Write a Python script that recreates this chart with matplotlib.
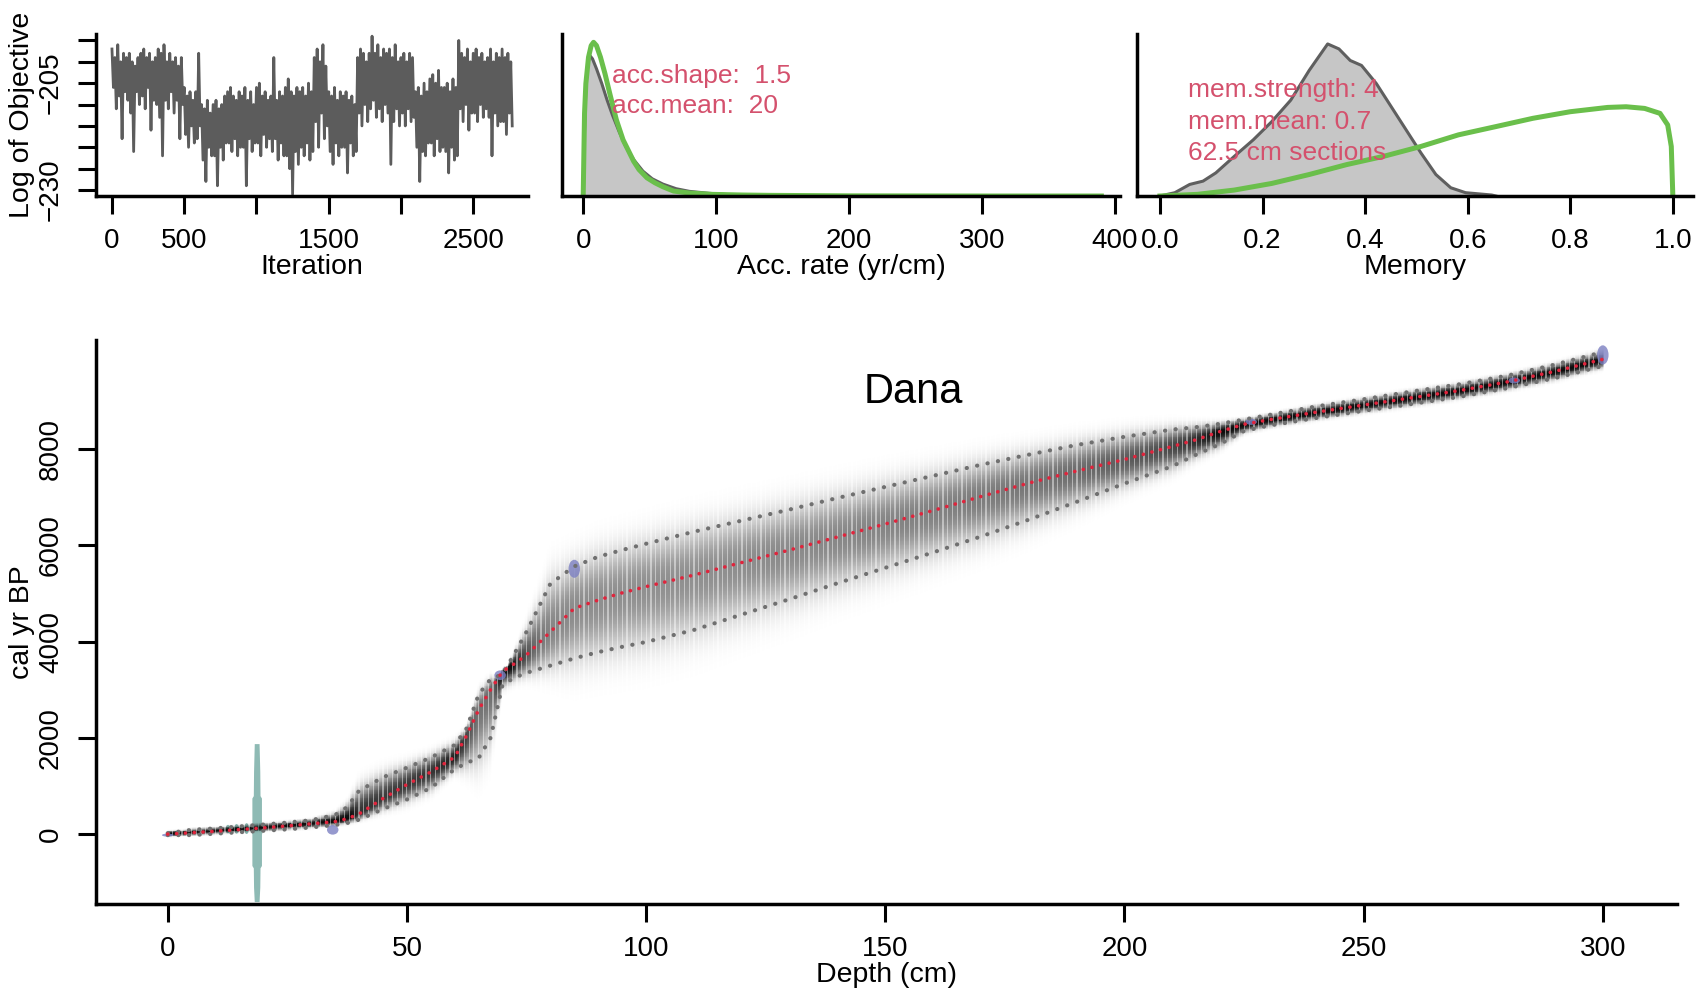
import numpy as np
import matplotlib.pyplot as plt
from matplotlib.patches import Ellipse

plt.rcParams['font.family'] = ['Liberation Sans', 'DejaVu Sans']

# ---- MCMC trace (log of objective) ----
trace = [
    -197, -206, -199, -211, -196, -208, -200, -218, -198, -207,
    -199, -209, -198, -212, -200, -221, -201, -207, -199, -210,
    -198, -208, -197, -211, -199, -206, -198, -216, -200, -209,
    -199, -210, -197, -213, -198, -222, -196, -209, -200, -211,
    -198, -207, -200, -212, -199, -209, -201, -218, -199, -210,
    -206, -217, -208, -220, -207, -215, -209, -219, -207, -218,
    -198, -215, -210, -223, -211, -228, -209, -220, -212, -222,
    -210, -222, -209, -229, -211, -220, -210, -223, -208, -219,
    -207, -219, -206, -221, -208, -218, -209, -222, -207, -220,
    -208, -220, -206, -229, -209, -218, -207, -221, -210, -219,
    -206, -219, -205, -222, -208, -217, -207, -220, -209, -218,
    -208, -221, -199, -218, -209, -223, -207, -219, -208, -222,
    -206, -222, -204, -225, -207, -231, -208, -221, -206, -224,
    -207, -220, -206, -222, -208, -219, -205, -223, -207, -221,
    -199, -214, -197, -220, -200, -212, -196, -218, -201, -215,
    -207, -221, -208, -224, -206, -219, -209, -222, -207, -220,
    -208, -220, -207, -226, -209, -219, -208, -222, -210, -221,
    -199, -212, -197, -215, -198, -210, -200, -214, -198, -211,
    -194, -209, -198, -213, -196, -211, -199, -214, -197, -210,
    -198, -212, -197, -224, -199, -214, -196, -211, -200, -215,
    -199, -212, -198, -215, -200, -211, -198, -214, -199, -213,
    -207, -220, -206, -228, -208, -221, -205, -222, -207, -219,
    -204, -219, -203, -222, -205, -218, -202, -221, -206, -220,
    -206, -221, -205, -226, -207, -220, -204, -223, -206, -222,
    -195, -211, -198, -214, -199, -210, -197, -216, -200, -212,
    -198, -212, -197, -214, -199, -210, -198, -213, -200, -211,
    -199, -213, -197, -222, -200, -212, -198, -215, -199, -214,
    -197, -214, -199, -217, -198, -212, -200, -215,
]
trace_step = 10  # iterations between stored values

# ---- accumulation rate: prior (green) and posterior (grey) ----
acc_prior_x = [0, 1, 2, 4, 6, 7.8, 10, 13, 16.4, 20, 25, 30, 33.7, 38, 42, 48,
               54, 60, 68, 80, 97, 120, 140, 200, 300, 390]
acc_prior_h = [0, 250, 340, 420, 455, 465, 455, 420, 370, 310, 230, 170, 140,
               105, 80, 55, 40, 28, 15, 9, 5, 3, 2, 0.5, 0, 0]
acc_post_x = [0, 1, 2, 3.5, 5, 7, 10, 14, 18, 22, 27, 32, 38, 45, 52, 60, 70,
              80, 95, 110, 123]
acc_post_h = [0, 200, 330, 400, 425, 415, 385, 340, 290, 245, 195, 150, 110,
              75, 52, 36, 22, 14, 8, 4, 0]

# ---- memory: prior (green) and posterior (grey) ----
mem_post_x = [0.0, 0.029, 0.058, 0.084, 0.109, 0.145, 0.182, 0.218, 0.255,
              0.291, 0.327, 0.349, 0.371, 0.393, 0.422, 0.451, 0.48, 0.509,
              0.538, 0.567, 0.596, 0.647, 0.655]
mem_post_h = [0, 10, 35, 45, 70, 120, 170, 225, 290, 380, 460, 445, 410, 395,
              340, 270, 200, 130, 65, 25, 10, 3, 0]
mem_prior_x = [0.0, 0.073, 0.145, 0.218, 0.291, 0.364, 0.436, 0.509, 0.582,
               0.655, 0.727, 0.8, 0.873, 0.909, 0.945, 0.975, 0.99, 0.997, 1.0]
mem_prior_h = [0, 5, 18, 38, 65, 95, 120, 150, 185, 210, 235, 255, 268, 270,
               265, 250, 215, 150, 0]

# ---- age-depth model ----
depth = [0, 5, 10, 15, 20, 25, 30, 35, 37.5, 40, 45, 50, 55, 60, 62.5, 65,
         67.5, 70, 72.5, 75, 80, 85, 90, 95, 100, 110, 120, 130, 140, 150,
         160, 170, 180, 190, 200, 210, 215, 220, 225, 230, 240, 250, 260, 270,
         280, 290, 300]
age_mean = [0, 30, 60, 95, 130, 170, 215, 260, 320, 420, 740, 1030, 1290,
            1600, 2050, 2580, 3000, 3380, 3540, 3720, 4200, 4690, 4860, 5010,
            5140, 5380, 5640, 5900, 6170, 6440, 6720, 7010, 7290, 7540, 7780,
            8050, 8190, 8360, 8510, 8600, 8760, 8910, 9060, 9210, 9390, 9610,
            9860]
age_upper = [20, 90, 120, 160, 200, 240, 290, 400, 560, 900, 1180, 1380,
             1590, 1850, 2200, 2900, 3220, 3320, 3750, 4200, 5200, 5560, 5760,
             5900, 6030, 6280, 6510, 6740, 6980, 7210, 7440, 7670, 7880, 8080,
             8250, 8400, 8450, 8520, 8610, 8700, 8880, 9030, 9190, 9340, 9520,
             9750, 10010]
age_lower = [-20, -20, 10, 40, 70, 100, 140, 190, 230, 300, 520, 720, 960,
             1350, 1480, 1580, 2000, 3100, 3250, 3350, 3500, 3650, 3780, 3890,
             3990, 4240, 4560, 4880, 5210, 5530, 5850, 6180, 6530, 6900, 7280,
             7640, 7880, 8100, 8370, 8480, 8640, 8790, 8930, 9080, 9260, 9470,
             9720]

# calibrated dates (blue blobs)
date_depth = [0, 34.5, 69.5, 85, 226.5, 281.5, 300]
date_age = [-20, 90, 3300, 5510, 8560, 9420, 9950]
date_sd = [25, 80, 80, 150, 50, 50, 160]
# modern/210Pb dates (teal)
pb_depth = [12.6, 14.4, 16.5]
pb_age = [105, 110, 115]
pb_sd = [70, 80, 90]
wide_depth = 18.6
wide_age = [-1400, -1100, -700, -650, 0, 80, 180, 750, 800, 1300, 1880]
wide_halfw = [0.5, 0.65, 0.7, 1.0, 1.0, 1.2, 1.0, 1.0, 0.7, 0.65, 0.5]

txt_col = '#d4516d'
green = '#6abf4b'
AX_LW = 2.5


def style(a):
    a.spines['top'].set_visible(False)
    a.spines['right'].set_visible(False)
    a.spines['left'].set_linewidth(AX_LW)
    a.spines['bottom'].set_linewidth(AX_LW)
    a.tick_params(length=13, width=2.2, labelsize=20, pad=10)


fig = plt.figure(figsize=(17.07, 9.98), dpi=100)

# ---- top-left: trace ----
ax_tr = fig.add_axes([0.0562, 0.8036, 0.2531, 0.1623])
it = np.arange(len(trace)) * trace_step
ax_tr.plot(it, trace, color='#5c5c5c', lw=2.0)
ax_tr.set_xlim(-111, 2879)
ax_tr.set_ylim(-231.4, -193.5)
style(ax_tr)
ax_tr.set_xticks([0, 500, 1000, 1500, 2000, 2500])
ax_tr.set_xticklabels(['0', '500', '', '1500', '', '2500'])
yt = np.arange(-230, -194, 5)
ax_tr.set_yticks(yt)
ax_tr.set_yticklabels(['\u2212230' if v == -230 else ('\u2212205' if v == -205 else '') for v in yt],
                      rotation=90, va='center')
ax_tr.set_xlabel('Iteration', fontsize=20.5, labelpad=0)
ax_tr.set_ylabel('Log of Objective', fontsize=20.5, labelpad=2)

# ---- top-middle: accumulation rate ----
ax_acc = fig.add_axes([0.3292, 0.8036, 0.3269, 0.1623])
ax_acc.fill_between(acc_post_x, 0, acc_post_h, color='#c6c6c6', lw=0)
ax_acc.plot(acc_post_x, acc_post_h, color='#5f5f5f', lw=2.2)
ax_acc.plot(acc_prior_x, acc_prior_h, color=green, lw=3.6)
ax_acc.set_xlim(-16, 404)
ax_acc.set_ylim(0, 490)
style(ax_acc)
ax_acc.set_yticks([])
ax_acc.set_xticks([0, 100, 200, 300, 400])
ax_acc.set_xlabel('Acc. rate (yr/cm)', fontsize=20.5, labelpad=0)
ax_acc.text(22, 362, 'acc.shape:  1.5', color=txt_col, fontsize=19, va='center')
ax_acc.text(22, 272, 'acc.mean:  20', color=txt_col, fontsize=19, va='center')

# ---- top-right: memory ----
ax_mem = fig.add_axes([0.666, 0.8036, 0.326, 0.1623])
ax_mem.fill_between(mem_post_x, 0, mem_post_h, color='#c6c6c6', lw=0)
ax_mem.plot(mem_post_x, mem_post_h, color='#5f5f5f', lw=2.2)
ax_mem.plot(mem_prior_x, mem_prior_h, color=green, lw=3.6)
ax_mem.set_xlim(-0.045, 1.04)
ax_mem.set_ylim(0, 490)
style(ax_mem)
ax_mem.set_yticks([])
ax_mem.set_xticks([0, 0.2, 0.4, 0.6, 0.8, 1.0])
ax_mem.set_xticklabels(['0.0', '0.2', '0.4', '0.6', '0.8', '1.0'])
ax_mem.set_xlabel('Memory', fontsize=20.5, labelpad=0)
for h, s in zip([320, 225, 130], ['mem.strength: 4', 'mem.mean: 0.7', '62.5 cm sections']):
    ax_mem.text(0.055, h, s, color=txt_col, fontsize=19, va='center')

# ---- main age-depth panel ----
ax = fig.add_axes([0.0562, 0.0942, 0.9262, 0.5651])

ax.fill_betweenx(wide_age, wide_depth - np.array(wide_halfw), wide_depth + np.array(wide_halfw),
                 color='#8ebab4', lw=0, zorder=1)
for d, a, s in zip(pb_depth, pb_age, pb_sd):
    ax.add_patch(Ellipse((d, a), width=1.0, height=2.5 * s, color='#8ebab4', lw=0, zorder=1))

# grey shading of the age-model ensemble, built from the bounds above
xs = np.arange(0, 300.01, 0.25)
ys = np.linspace(-1450, 10260, 700)
m = np.interp(xs, depth, age_mean)
up = np.interp(xs, depth, age_upper)
lo = np.interp(xs, depth, age_lower)
su = np.maximum((up - m) / 1.96, 25)
sl = np.maximum((m - lo) / 1.96, 25)
dz = ys[:, None] - m[None, :]
z = np.where(dz > 0, dz / su[None, :], dz / sl[None, :])
peak = 0.95 * np.minimum(1, (110 / ((su + sl) / 2)) ** 0.5)
dark = peak[None, :] * np.exp(-(np.abs(z) / 1.9) ** 2.4)
stripe = (np.arange(len(xs)) % 4) == 0
dark[:, stripe] *= 0.55
rgba = np.zeros((len(ys), len(xs), 4))
rgba[..., 3] = dark
ax.imshow(rgba, extent=(xs[0] - 0.125, xs[-1] + 0.125, ys[0], ys[-1]), origin='lower',
          aspect='auto', interpolation='nearest', zorder=2)

for d, a, s in zip(date_depth, date_age, date_sd):
    ax.add_patch(Ellipse((d, a), width=2.4, height=2.5 * s, color='#7c80c2', alpha=0.8,
                         lw=0, zorder=3))

dots = dict(dash_capstyle='round', zorder=4)
ax.plot(depth, age_upper, color='#707070', lw=3.0, ls=(0, (0.05, 2.5)), **dots)
ax.plot(depth, age_lower, color='#707070', lw=3.0, ls=(0, (0.05, 2.5)), **dots)
ax.plot(depth, age_mean, color='#e0243c', lw=2.6, ls=(0, (0.05, 2.4)), **dots)

ax.set_xlim(-15, 315.5)
ax.set_ylim(-1450, 10260)
style(ax)
ax.set_xticks([0, 50, 100, 150, 200, 250, 300])
ax.set_yticks([0, 2000, 4000, 6000, 8000])
ax.set_yticklabels(['0', '2000', '4000', '6000', '8000'], rotation=90, va='center')
ax.set_xlabel('Depth (cm)', fontsize=20.5, labelpad=0)
ax.set_ylabel('cal yr BP', fontsize=20.5, labelpad=2)
ax.text(0.517, 0.908, 'Dana', transform=ax.transAxes, ha='center', va='center', fontsize=30)

fig.savefig('out.png', dpi=100)
